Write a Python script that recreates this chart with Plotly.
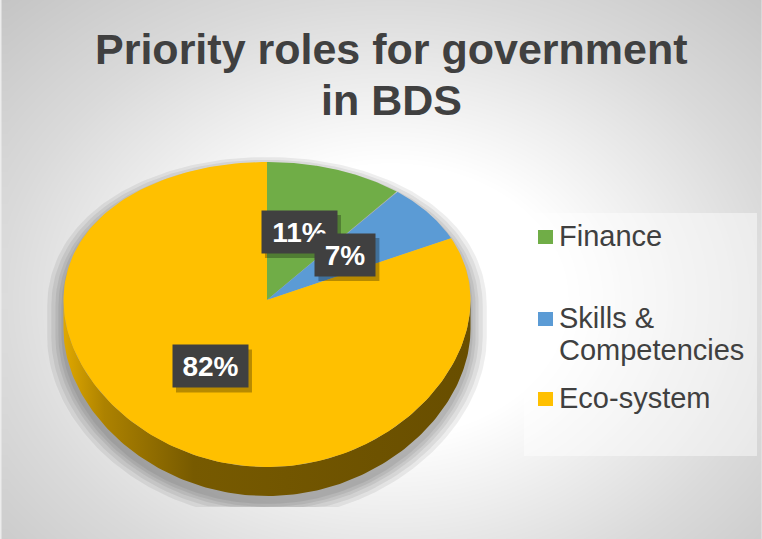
import numpy as np
import plotly.graph_objects as go

# ---- chart data ----
categories = ["Finance", "Skills & Competencies", "Eco-system"]
legend_text = ["Finance", "Skills &<br>Competencies", "Eco-system"]
shares = [11, 7, 82]
colors = ["#70AD47", "#5B9BD5", "#FFC000"]
title_lines = ["Priority roles for government", "in BDS"]

W, H = 762, 539
FONT = "Liberation Sans, Arial, sans-serif"
TEXT_COLOR = "#404040"

# ---- 3D pie geometry (tilted disc with a little perspective) ----
CX, CY = 267, 300
RX = 203.5
RY_BACK, RY_FRONT = 138, 167
K = (RY_FRONT - RY_BACK) / (RY_FRONT + RY_BACK)
A = RY_BACK * (1 + K)
DEPTH = 29


def proj(r, deg):
    t = np.radians(deg)
    c = r * np.cos(t)
    x = CX + RX * r * np.sin(t)
    y = CY - A * c / (1 + K * c)
    return x, y


def shade(hex_color, f):
    h = hex_color.lstrip("#")
    r, g, b = (int(h[i:i + 2], 16) for i in (0, 2, 4))
    return "rgb({},{},{})".format(int(r * f), int(g * f), int(b * f))


total = float(sum(shares))
bounds = np.concatenate([[0], np.cumsum(shares)]) / total * 360.0

fig = go.Figure()

# ---- radial gradient background ----
gx = np.linspace(7, W, 70)
gy = np.linspace(0, H, 50)
GX, GY = np.meshgrid(gx, gy)
GZ = np.sqrt(((GX - 390) / 390) ** 2 + ((GY - 300) / 300) ** 2)
fig.add_trace(go.Heatmap(
    x=gx, y=gy, z=GZ, zmin=0, zmax=1.5, zsmooth="best", showscale=False,
    hoverinfo="skip",
    colorscale=[[0, "#ffffff"], [0.3, "#ffffff"], [0.67, "#dadada"], [1, "#c0c0c0"]],
))

# ---- soft shadow under the disc ----
theta_back = np.concatenate([np.linspace(270, 360, 60), np.linspace(0, 90, 60)])
theta_front = np.linspace(90, 270, 120)
bx, by = proj(1.0, theta_back)
fx, fy = proj(1.0, theta_front)
sil_x = np.concatenate([bx, fx])
sil_y = np.concatenate([by, fy + DEPTH])
for p in [16, 12, 8, 5, 2]:
    s = 1 + p / 200.0
    xs = (sil_x - CX) * s + CX
    ys = np.minimum((sil_y - CY) * s + CY + 6, 507)
    fig.add_trace(go.Scatter(
        x=xs, y=ys, mode="lines", fill="toself", line=dict(width=0),
        fillcolor="rgba(0,0,0,0.065)", hoverinfo="skip", showlegend=False,
    ))

# ---- side wall of the disc (front half only) ----
for i, col in enumerate(colors):
    a0, a1 = max(bounds[i], 90.0), min(bounds[i + 1], 270.0)
    if a1 <= a0:
        continue
    th = np.linspace(a0, a1, 160)
    tx, ty = proj(1.0, th)
    xs = np.concatenate([tx, tx[::-1]])
    ys = np.concatenate([ty, ty[::-1] + DEPTH])
    fig.add_trace(go.Scatter(
        x=xs, y=ys, mode="lines", fill="toself", line=dict(width=0),
        fillcolor=shade(col, 0.45),
        fillgradient=dict(type="horizontal", colorscale=[
            [0, shade(col, 0.88)], [0.1, shade(col, 0.68)],
            [0.32, shade(col, 0.47)], [1, shade(col, 0.41)]]),
        hoverinfo="skip", showlegend=False,
    ))

# ---- top face slices ----
for i, (name, col) in enumerate(zip(categories, colors)):
    th = np.linspace(bounds[i], bounds[i + 1], 200)
    tx, ty = proj(1.0, th)
    xs = np.concatenate([[CX], tx, [CX]])
    ys = np.concatenate([[CY], ty, [CY]])
    fig.add_trace(go.Scatter(
        x=xs, y=ys, mode="lines", fill="toself", line=dict(width=0),
        fillcolor=col, name=name, hoverinfo="name", showlegend=False,
    ))

shapes = []
annotations = []

# ---- data labels ----
for i, v in enumerate(shares):
    mid = (bounds[i] + bounds[i + 1]) / 2
    lx, ly = proj(0.5, mid)
    lx -= 2
    txt = "{}%".format(v)
    bw, bh = 30 + 15 * len(txt), 42
    shapes.append(dict(
        type="rect", xref="x", yref="y", layer="above",
        x0=lx - bw / 2 + 3, x1=lx + bw / 2 + 4, y0=ly - bh / 2 + 4, y1=ly + bh / 2 + 5,
        fillcolor="rgba(0,0,0,0.28)", line=dict(width=0),
    ))
    annotations.append(dict(
        x=lx, y=ly, xref="x", yref="y", text="<b>{}</b>".format(txt),
        showarrow=False, width=bw, height=bh, bgcolor="#404040",
        font=dict(family=FONT, size=28, color="#ffffff"),
        xanchor="center", yanchor="middle", borderpad=0,
    ))

# ---- title ----
for line, yb in zip(title_lines, [64, 115]):
    annotations.append(dict(
        x=391, y=yb - 15, xref="x", yref="y", text="<b>{}</b>".format(line),
        showarrow=False, xanchor="center", yanchor="middle",
        font=dict(family=FONT, size=43, color=TEXT_COLOR),
    ))

# ---- legend ----
shapes.append(dict(
    type="rect", xref="x", yref="y", layer="above",
    x0=524, x1=757, y0=213, y1=456,
    fillcolor="rgba(255,255,255,0.45)", line=dict(width=0),
))
legend_rows = [237, 319, 399]
LEGEND_LINE = 32
for txt, col, yc in zip(legend_text, colors, legend_rows):
    shapes.append(dict(
        type="rect", xref="x", yref="y", layer="above",
        x0=538, x1=553, y0=yc - 7, y1=yc + 7,
        fillcolor=col, line=dict(width=0),
    ))
    for j, part in enumerate(txt.split("<br>")):
        annotations.append(dict(
            x=557, y=yc - 1 + j * LEGEND_LINE, xref="x", yref="y", text=part,
            showarrow=False, xanchor="left", yanchor="middle", align="left",
            font=dict(family=FONT, size=29, color=TEXT_COLOR),
        ))

fig.update_layout(
    width=W, height=H,
    margin=dict(l=0, r=0, t=0, b=0),
    paper_bgcolor="#ececec", plot_bgcolor="#ececec",
    xaxis=dict(range=[0, W], visible=False, fixedrange=True),
    yaxis=dict(range=[H, 0], visible=False, fixedrange=True),
    shapes=shapes, annotations=annotations,
    showlegend=False,
)

fig.write_html("out.html")
